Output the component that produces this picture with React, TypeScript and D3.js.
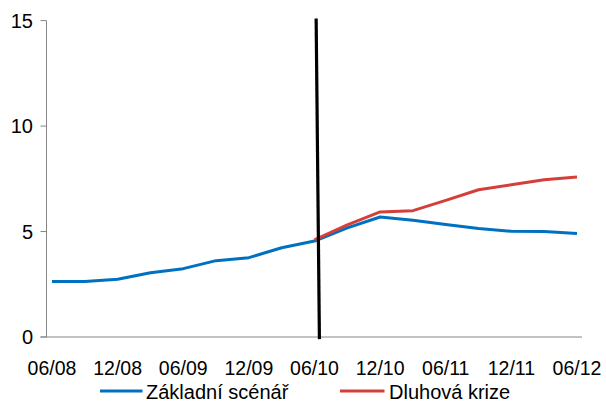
import React from "react";
import * as d3 from "d3";

const categories = ["06/08","09/08","12/08","03/09","06/09","09/09","12/09","03/10","06/10","09/10","12/10","03/11","06/11","09/11","12/11","03/12","06/12"];
const baseValues = [2.63,2.63,2.74,3.05,3.24,3.62,3.76,4.23,4.55,5.17,5.69,5.53,5.33,5.14,5.01,5.0,4.91];
const crisisValues: (number | null)[] = [null,null,null,null,null,null,null,null,4.6,5.32,5.93,5.99,6.48,6.98,7.22,7.45,7.58];
const yTicks = [0,5,10,15];
const dividerLine = [{ i: 8.05, v: 15.1 }, { i: 8.15, v: -0.1 }];
const seriesNames = ["Základní scénář", "Dluhová krize"];
const colors = ["#0070C0", "#D43F3A"];

export default function App() {
  const W = 606, H = 402;
  const x = d3.scaleLinear().domain([0, categories.length - 1]).range([52, 577]);
  const y = d3.scaleLinear().domain([0, 15]).range([337, 20.6]);
  const axisLeft = 46.5, axisRight = 582;
  const font = "'Liberation Sans', Arial, sans-serif";

  const line = d3.line<number | null>()
    .defined(d => d !== null)
    .x((_, i) => x(i))
    .y(d => y(d as number));
  const divider = d3.line<{ i: number; v: number }>().x(d => x(d.i)).y(d => y(d.v));

  return (
    <svg width={W} height={H} style={{ position: "absolute", left: 0, top: 0, background: "#fff" }} fontFamily={font}>
      {/* y axis */}
      <line x1={axisLeft} x2={axisLeft} y1={y(15)} y2={y(0)} stroke="#868686" strokeWidth={1} />
      {yTicks.map(t => (
        <g key={t}>
          <line x1={axisLeft - 6} x2={axisLeft} y1={y(t)} y2={y(t)} stroke="#868686" strokeWidth={1} />
          <text x={33} y={y(t)} dy="0.36em" textAnchor="end" fontSize={20} fill="#000">{t}</text>
        </g>
      ))}
      {/* x axis */}
      <line x1={axisLeft - 6} x2={axisRight} y1={y(0)} y2={y(0)} stroke="#868686" strokeWidth={1} />
      {categories.map((c, i) => i % 2 === 0 ? (
        <text key={c} x={x(i)} y={375} textAnchor="middle" fontSize={19.5} fill="#000">{c}</text>
      ) : null)}
      {/* series */}
      <path d={line(baseValues) || ""} fill="none" stroke={colors[0]} strokeWidth={3} strokeLinejoin="round" />
      <path d={line(crisisValues) || ""} fill="none" stroke={colors[1]} strokeWidth={3} strokeLinejoin="round" />
      {/* divider */}
      <path d={divider(dividerLine) || ""} fill="none" stroke="#000" strokeWidth={3.2} />
      {/* legend */}
      <line x1={100} x2={142.5} y1={391} y2={391} stroke={colors[0]} strokeWidth={3} />
      <text x={146} y={399} fontSize={20} fill="#000">{seriesNames[0]}</text>
      <line x1={340} x2={384.5} y1={391} y2={391} stroke={colors[1]} strokeWidth={3} />
      <text x={389} y={399} fontSize={20} fill="#000">{seriesNames[1]}</text>
    </svg>
  );
}
